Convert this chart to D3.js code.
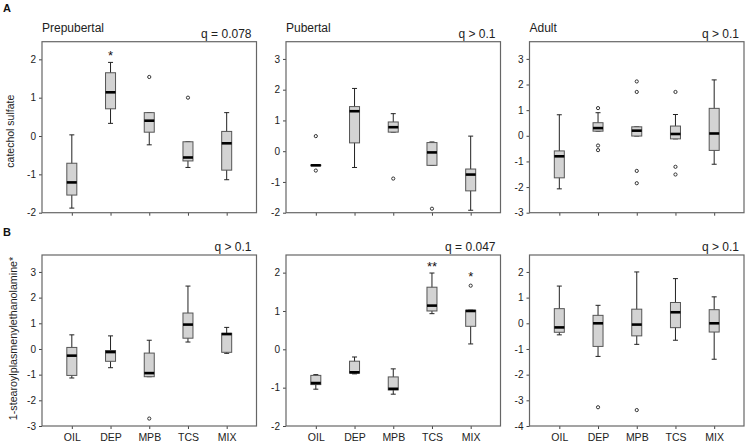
<!DOCTYPE html>
<html><head><meta charset="utf-8">
<script src="https://cdn.jsdelivr.net/npm/d3@7"></script>
<style>body{margin:0;background:#fff}svg{display:block}</style>
</head><body>
<svg id="chart" width="746" height="442"></svg>
<script>
// ---------- data ----------
const categories = ["OIL", "DEP", "MPB", "TCS", "MIX"];
// each box: [whiskerLow, q1, median, q3, whiskerHigh]
const prepubertalCatechol = [[-1.88,-1.54,-1.21,-0.71,0.03],[0.33,0.71,1.14,1.65,1.92],[-0.23,0.10,0.40,0.61,0.61],[-0.82,-0.65,-0.56,-0.15,-0.15],[-1.14,-0.89,-0.19,0.12,0.61]];
const prepubertalCatecholOut = [[],[],[1.54],[1.0],[]];
const pubertalCatechol = [[-0.46,-0.47,-0.46,-0.45,-0.46],[-0.53,0.27,1.30,1.45,2.04],[0.62,0.62,0.78,0.95,1.22],[-0.46,-0.46,-0.04,0.28,0.30],[-1.92,-1.29,-0.76,-0.58,0.49]];
const pubertalCatecholOut = [[0.49,-0.63],[],[-0.89],[-1.87],[]];
const adultCatechol = [[-2.07,-1.64,-0.80,-0.59,0.82],[0.18,0.18,0.30,0.51,0.90],[-0.01,-0.01,0.20,0.35,0.35],[-0.12,-0.12,0.07,0.38,0.83],[-1.11,-0.57,0.09,1.07,2.18]];
const adultCatecholOut = [[],[1.08,-0.38,-0.56],[2.12,1.71,-1.37,-1.85],[1.71,-1.21,-1.51],[]];
const prepubertalStearoyl = [[-1.13,-1.03,-0.26,0.06,0.55],[-0.73,-0.48,-0.12,-0.06,0.51],[-1.08,-1.08,-0.94,-0.16,0.34],[0.27,0.42,0.95,1.40,2.45],[-0.17,-0.13,0.58,0.61,0.84]];
const prepubertalStearoylOut = [[],[],[-2.71],[],[]];
const pubertalStearoyl = [[-1.04,-0.92,-0.88,-0.68,-0.66],[-0.64,-0.62,-0.60,-0.31,-0.20],[-1.17,-1.06,-1.03,-0.72,-0.51],[0.93,1.00,1.14,1.62,1.99],[0.14,0.60,1.00,1.02,1.02]];
const pubertalStearoylOut = [[],[],[],[],[1.66]];
const adultStearoyl = [[-0.45,-0.35,-0.16,0.57,1.45],[-1.29,-0.90,0.00,0.31,0.70],[-0.82,-0.49,-0.05,0.55,2.00],[-0.66,-0.17,0.43,0.81,1.74],[-1.40,-0.34,0.00,0.53,1.03]];
const adultStearoylOut = [[],[-3.27],[-3.38],[],[]];

const panelTitles = ["Prepubertal", "Pubertal", "Adult", "", "", ""];
const qLabels = ["q = 0.078", "q > 0.1", "q > 0.1", "q > 0.1", "q = 0.047", "q > 0.1"];
const yDomains = [[-2,2.46],[-2,3.56],[-3,3.67],[-3,3.66],[-2,2.46],[-4,2.66]];
const yTicks = [[-2,-1,0,1,2],[-2,-1,0,1,2,3],[-3,-2,-1,0,1,2,3],[-3,-2,-1,0,1,2,3],[-2,-1,0,1,2],[-4,-3,-2,-1,0,1,2]];
const stars = [["", "*", "", "", ""],["","","","",""],["","","","",""],["","","","",""],["","","","**","*"],["","","","",""]];
const rowLabels = ["A", "B"];
const yAxisTitles = ["catechol sulfate", "1-stearoylplasmenylethanolamine*"];

const boxes = [prepubertalCatechol, pubertalCatechol, adultCatechol, prepubertalStearoyl, pubertalStearoyl, adultStearoyl];
const outliers = [prepubertalCatecholOut, pubertalCatecholOut, adultCatecholOut, prepubertalStearoylOut, pubertalStearoylOut, adultStearoylOut];

// ---------- layout ----------
const colX = [42, 286, 529.5];
const rowY = [41.7, 255];
const W = 214.5, H = 171;
const font = "'Liberation Sans', Arial, sans-serif";

const svg = d3.select("#chart");

boxes.forEach((data, p) => {
  const row = Math.floor(p / 3), col = p % 3;
  const g = svg.append("g").attr("transform", `translate(${colX[col]},${rowY[row]})`);
  const x = d3.scalePoint().domain(categories).range([0, W]).padding(0.77);
  const y = d3.scaleLinear().domain(yDomains[p]).range([H, 0]);

  // axes
  const ya = g.append("g").call(d3.axisLeft(y).tickValues(yTicks[p]).tickSize(3).tickPadding(3).tickFormat(d => String(d)));
  const xa = g.append("g").attr("transform", `translate(0,${H})`)
    .call(d3.axisBottom(x).tickSize(3).tickPadding(5).tickFormat(d => row === 1 ? d : ""));
  [ya, xa].forEach(a => {
    a.select(".domain").remove();
    a.selectAll("line").attr("stroke", "#444");
    a.selectAll("text").attr("fill", "#222").style("font-family", font);
  });
  ya.selectAll("text").style("font-size", "10px");
  xa.selectAll("text").style("font-size", "10.5px");

  // frame
  g.append("rect").attr("x", 0).attr("y", 0).attr("width", W).attr("height", H)
    .attr("fill", "none").attr("stroke", "#666").attr("stroke-width", 1.2);

  const bw = 10, cw = 5;
  data.forEach((s, i) => {
    const cx = x(categories[i]);
    const [lo, q1, med, q3, hi] = s;
    g.append("line").attr("x1", cx).attr("x2", cx).attr("y1", y(lo)).attr("y2", y(hi)).attr("stroke", "#222").attr("stroke-width", 1);
    [lo, hi].forEach(v => g.append("line").attr("x1", cx - cw / 2).attr("x2", cx + cw / 2).attr("y1", y(v)).attr("y2", y(v)).attr("stroke", "#222").attr("stroke-width", 1));
    g.append("rect").attr("x", cx - bw / 2).attr("y", y(q3)).attr("width", bw).attr("height", Math.max(0.5, y(q1) - y(q3)))
      .attr("fill", "#d3d3d3").attr("stroke", "#555").attr("stroke-width", 1);
    g.append("line").attr("x1", cx - bw / 2).attr("x2", cx + bw / 2).attr("y1", y(med)).attr("y2", y(med)).attr("stroke", "#000").attr("stroke-width", 2.6);
    outliers[p][i].forEach(v => g.append("circle").attr("cx", cx).attr("cy", y(v)).attr("r", 1.6)
      .attr("fill", "#fff").attr("stroke", "#333").attr("stroke-width", 1));
    if (stars[p][i]) {
      const top = d3.max([hi, ...outliers[p][i]]);
      g.append("text").attr("x", cx).attr("y", y(top) - (top > hi ? 4.5 : 2)).attr("text-anchor", "middle")
        .style("font-family", font).style("font-size", "13px").attr("fill", "#111").text(stars[p][i]);
    }
  });

  if (panelTitles[p]) g.append("text").attr("x", 0).attr("y", -10).style("font-family", font).style("font-size", "12px").attr("fill", "#222").text(panelTitles[p]);
  g.append("text").attr("x", W - 5).attr("y", -4).attr("text-anchor", "end").style("font-family", font).style("font-size", "12px").attr("fill", "#222").text(qLabels[p]);
});

// row labels and y-axis titles
rowLabels.forEach((t, r) => {
  svg.append("text").attr("x", 3).attr("y", r === 0 ? 11.5 : 236).style("font-family", font).style("font-size", "11px").style("font-weight", "bold").attr("fill", "#111").text(t);
  const cy = rowY[r] + H / 2;
  svg.append("text").attr("transform", `translate(${r === 0 ? 14 : 17},${cy + (r === 0 ? 4 : -2)}) rotate(-90)`).attr("text-anchor", "middle")
    .style("font-family", font).style("font-size", r === 0 ? "10.5px" : "10.7px").attr("fill", "#222").text(yAxisTitles[r]);
});
</script>
</body></html>
